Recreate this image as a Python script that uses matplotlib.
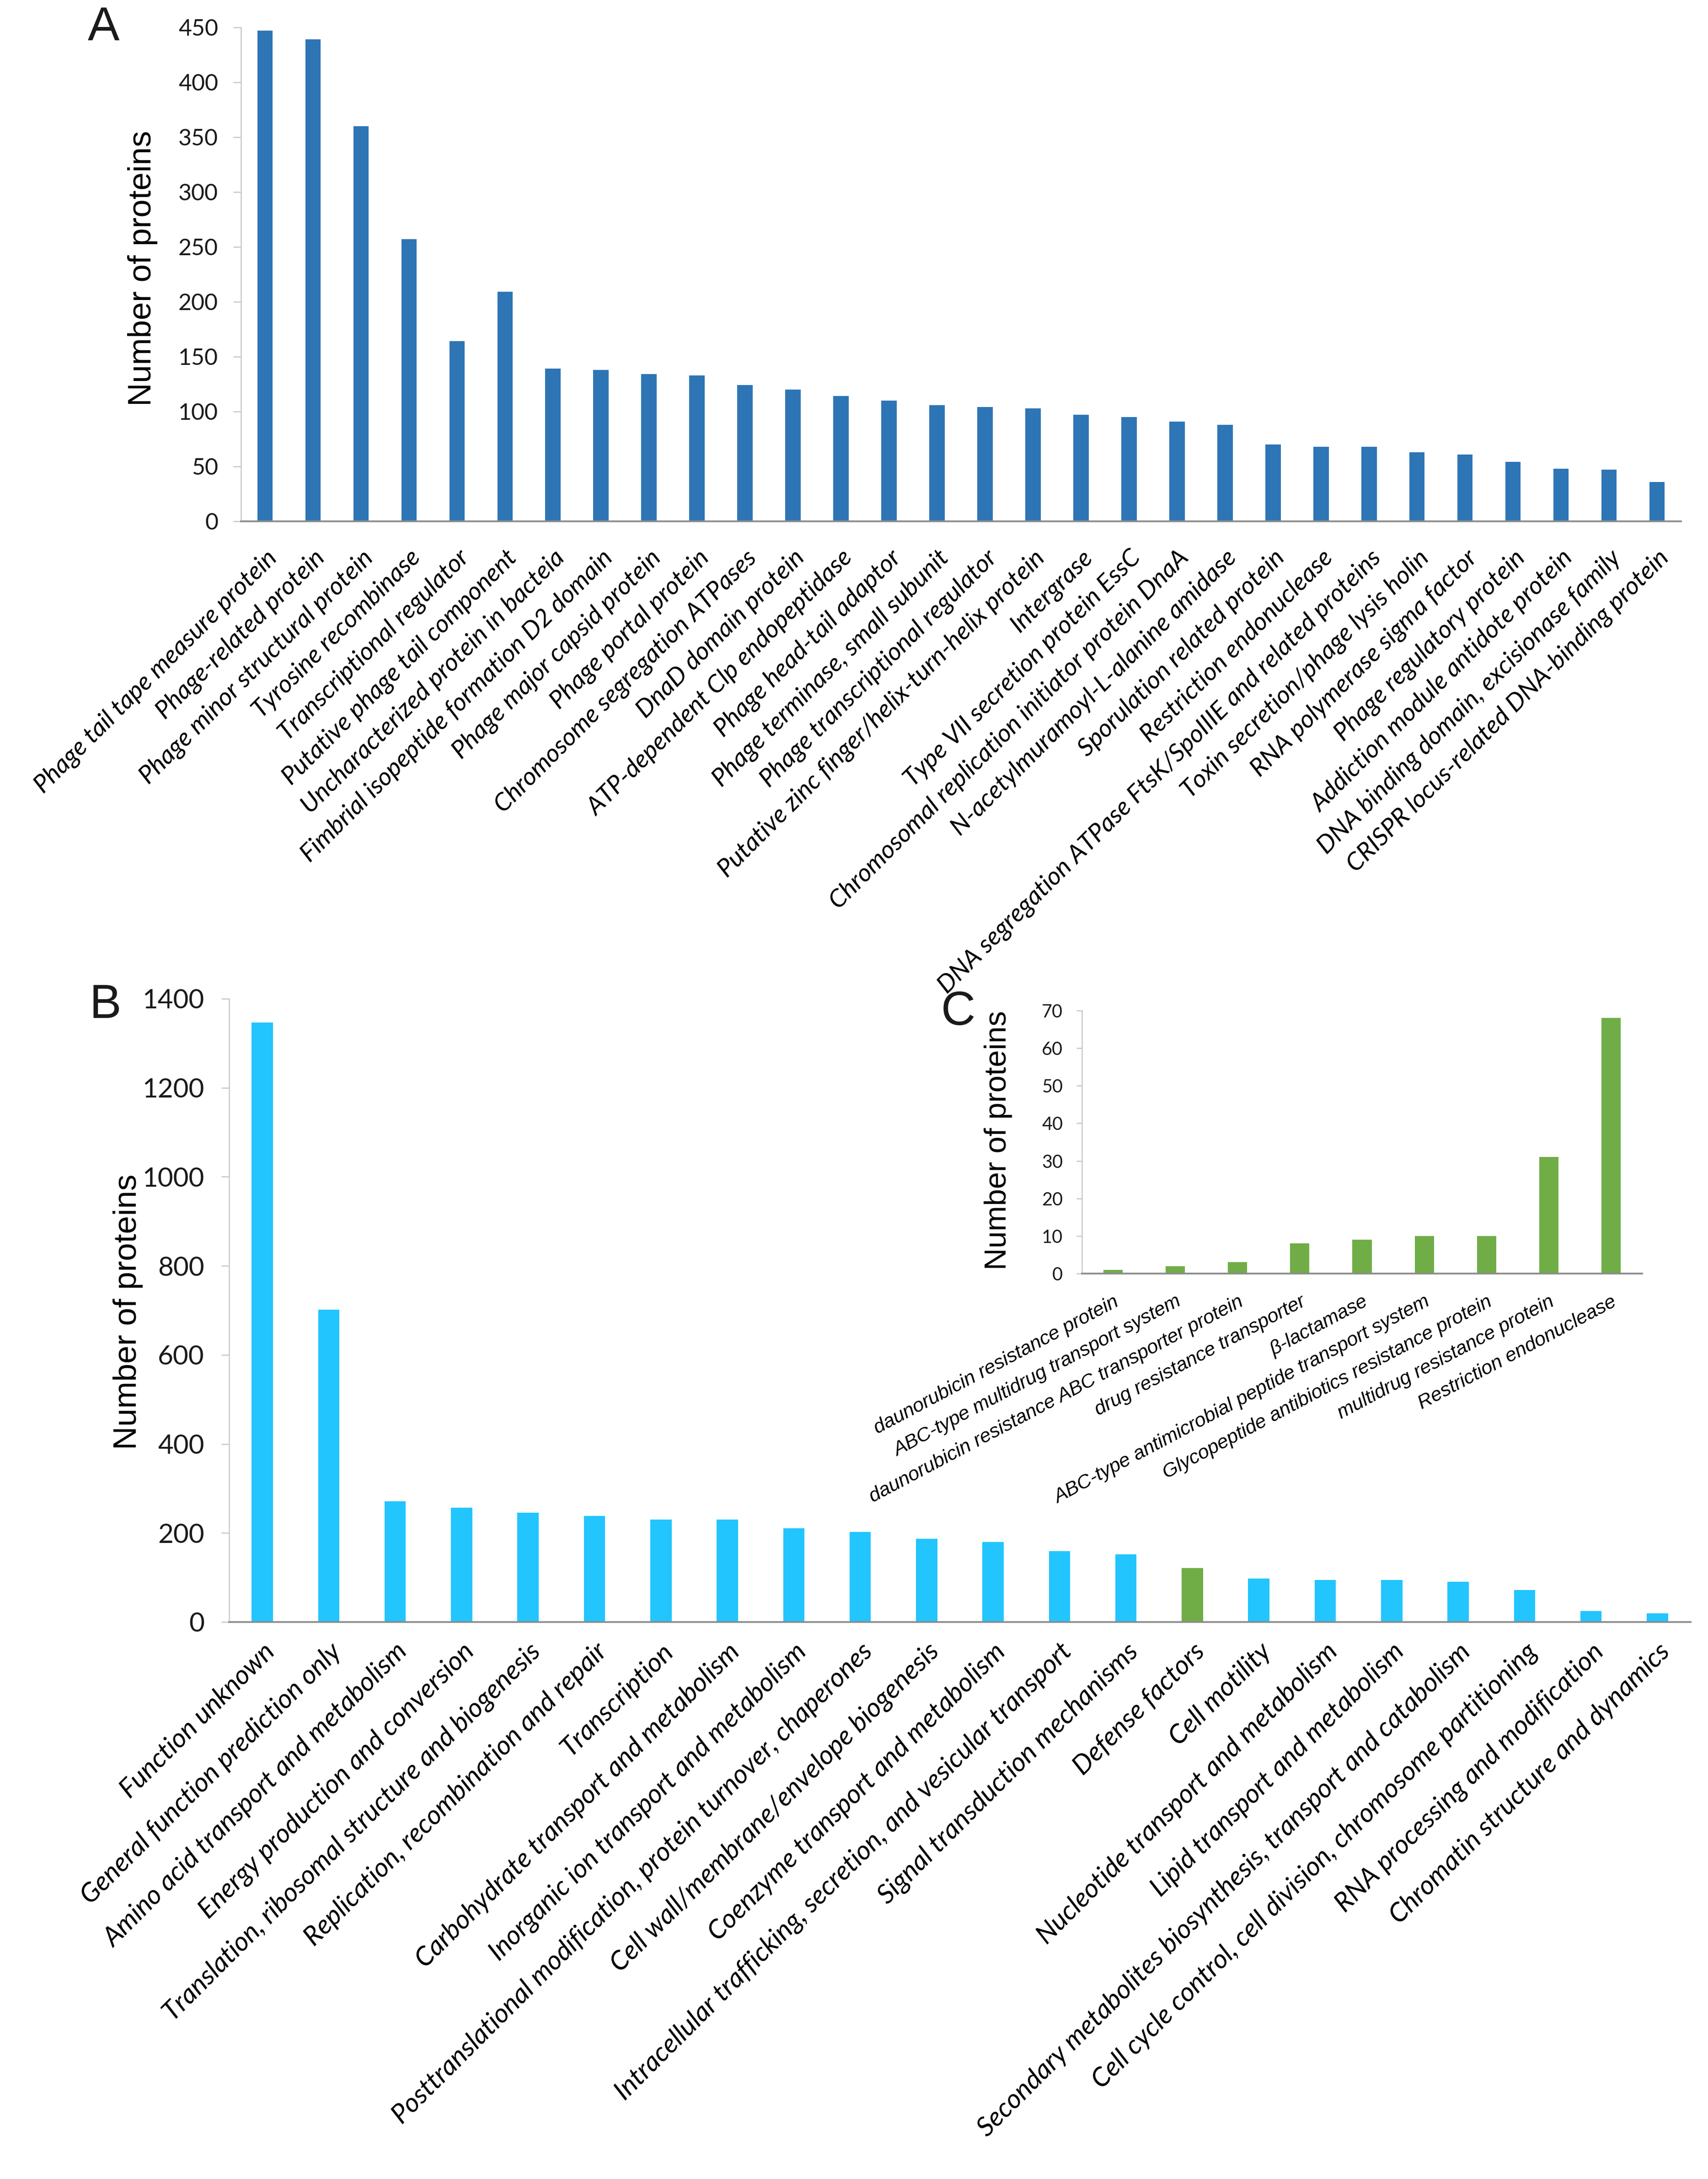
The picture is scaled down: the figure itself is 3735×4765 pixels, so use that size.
import matplotlib
matplotlib.use("Agg")
import matplotlib.pyplot as plt
import numpy as np

# Panel A: phage-related protein families
a_labels = ["Phage tail tape measure protein", "Phage-related protein", "Phage minor structural protein",
            "Tyrosine recombinase", "Transcriptional regulator", "Putative phage tail component",
            "Uncharacterized protein in bacteia", "Fimbrial isopeptide formation D2 domain",
            "Phage major capsid protein", "Phage portal protein", "Chromosome segregation ATPases",
            "DnaD domain protein", "ATP-dependent Clp endopeptidase", "Phage head-tail adaptor",
            "Phage terminase, small subunit", "Phage transcriptional regulator",
            "Putative zinc finger/helix-turn-helix protein", "Intergrase",
            "Type VII secretion protein EssC", "Chromosomal replication initiator protein DnaA",
            "N-acetylmuramoyl-L-alanine amidase", "Sporulation related protein",
            "Restriction endonuclease", "DNA segregation ATPase FtsK/SpoIIIE and related proteins",
            "Toxin secretion/phage lysis holin", "RNA polymerase sigma factor",
            "Phage regulatory protein", "Addiction module antidote protein",
            "DNA binding domain, excisionase family", "CRISPR locus-related DNA-binding protein"]
a_values = [447, 439, 360, 257, 164, 209, 139, 138, 134, 133, 124, 120, 114, 110, 106,
            104, 103, 97, 95, 91, 88, 70, 68, 68, 63, 61, 54, 48, 47, 36]

# Panel B: COG functional categories
b_labels = ["Function unknown", "General function prediction only", "Amino acid transport and metabolism",
            "Energy production and conversion", "Translation, ribosomal structure and biogenesis",
            "Replication, recombination and repair", "Transcription",
            "Carbohydrate transport and metabolism", "Inorganic ion transport and metabolism",
            "Posttranslational modification, protein turnover, chaperones",
            "Cell wall/membrane/envelope biogenesis", "Coenzyme transport and metabolism",
            "Intracellular trafficking, secretion, and vesicular transport",
            "Signal transduction mechanisms", "Defense factors", "Cell motility",
            "Nucleotide transport and metabolism", "Lipid transport and metabolism",
            "Secondary metabolites biosynthesis, transport and catabolism",
            "Cell cycle control, cell division, chromosome partitioning",
            "RNA processing and modification", "Chromatin structure and dynamics"]
b_values = [1347, 702, 271, 257, 246, 238, 230, 230, 211, 202, 187, 180, 159, 152,
            121, 98, 95, 95, 90, 72, 25, 20]
b_highlight = "Defense factors"

# Panel C: defense factors breakdown
c_labels = ["daunorubicin resistance protein", "ABC-type multidrug transport system",
            "daunorubicin resistance ABC transporter protein", "drug resistance transporter",
            "β-lactamase", "ABC-type antimicrobial peptide transport system",
            "Glycopeptide antibiotics resistance protein", "multidrug resistance protein",
            "Restriction endonuclease"]
c_values = [1, 2, 3, 8, 9, 10, 10, 31, 68]

BLUE = "#2E75B6"
SKY = "#22C5FD"
GREEN = "#70AD47"
AXIS_DARK = "#8C8C8C"
AXIS_LIGHT = "#C8C8C8"

W, H = 3735, 4765


def box(l, t, r, b):
    # pixel box -> figure fraction [left, bottom, width, height]
    return [l / W, 1 - b / H, (r - l) / W, (b - t) / H]


def style_axis(ax, ymax, step, tick_size, label_font, label_size, rot, pad, tpad, tlen):
    ax.set_ylim(0, ymax)
    ax.set_yticks(np.arange(0, ymax + 1, step))
    for s in ["top", "right"]:
        ax.spines[s].set_visible(False)
    ax.spines["left"].set_color(AXIS_LIGHT)
    ax.spines["left"].set_linewidth(0.6)
    ax.spines["bottom"].set_color(AXIS_DARK)
    ax.spines["bottom"].set_linewidth(0.9)
    ax.tick_params(axis="y", direction="out", length=tlen, width=0.6, color=AXIS_LIGHT,
                   pad=tpad, labelsize=tick_size, labelcolor="#1a1a1a")
    ax.tick_params(axis="x", length=0, pad=pad)
    for t in ax.get_yticklabels():
        t.set_fontfamily("Lato")
    for t in ax.get_xticklabels():
        t.set_fontfamily(label_font)
        t.set_fontstyle("italic")
        t.set_fontsize(label_size)
        t.set_rotation(rot)
        t.set_ha("right")
        t.set_va("top")
        t.set_rotation_mode("anchor")


fig = plt.figure(figsize=(W / 300, H / 300), dpi=300)

# ---- A ----
axA = fig.add_axes(box(527, 60, 3676, 1140))
xa = np.arange(len(a_values))
axA.bar(xa, a_values, width=0.32, color=BLUE)
axA.set_xlim(-0.5, len(a_values) - 0.5)
axA.set_xticks(xa)
axA.set_xticklabels(a_labels)
style_axis(axA, 450, 50, 12, "Lato", 13.2, 45, 13, 8, 4)
axA.set_ylabel("Number of proteins", fontsize=17, family="Liberation Sans", ha="center", va="center")
axA.yaxis.set_label_coords((312 - 527) / 3149, (1140 - 587) / 1080)

# ---- B ----
axB = fig.add_axes(box(501, 2184, 3697, 3547))
xb = np.arange(len(b_values))
b_colors = [GREEN if lab == b_highlight else SKY for lab in b_labels]
axB.bar(xb, b_values, width=0.32, color=b_colors)
axB.set_xlim(-0.5, len(b_values) - 0.5)
axB.set_xticks(xb)
axB.set_xticklabels(b_labels)
style_axis(axB, 1400, 200, 14, "Lato", 14, 45, 9, 9, 4)
axB.set_ylabel("Number of proteins", fontsize=17, family="Liberation Sans", ha="center", va="center")
axB.yaxis.set_label_coords((280 - 501) / 3196, (3547 - 2869) / 1363)

# ---- C (inset) ----
axC = fig.add_axes(box(2366, 2210, 3591, 2785))
xc = np.arange(len(c_values))
axC.bar(xc, c_values, width=0.31, color=GREEN)
axC.set_xlim(-0.5, len(c_values) - 0.5)
axC.set_xticks(xc)
axC.set_xticklabels(c_labels)
style_axis(axC, 70, 10, 9.5, "Liberation Sans", 10.4, 28, 10, 7, 3)
axC.set_ylabel("Number of proteins", fontsize=16, family="Liberation Sans", ha="center", va="center")
axC.yaxis.set_label_coords((2183 - 2366) / 1225, (2785 - 2494) / 575)

# panel letters
for letter, px, py in [("A", 227, 62), ("B", 230, 2200), ("C", 2095, 2214)]:
    fig.text(px / W, 1 - py / H, letter, fontsize=25, family="Liberation Sans",
             ha="center", va="center", color="#1a1a1a")

fig.savefig("out.png", dpi=300)
